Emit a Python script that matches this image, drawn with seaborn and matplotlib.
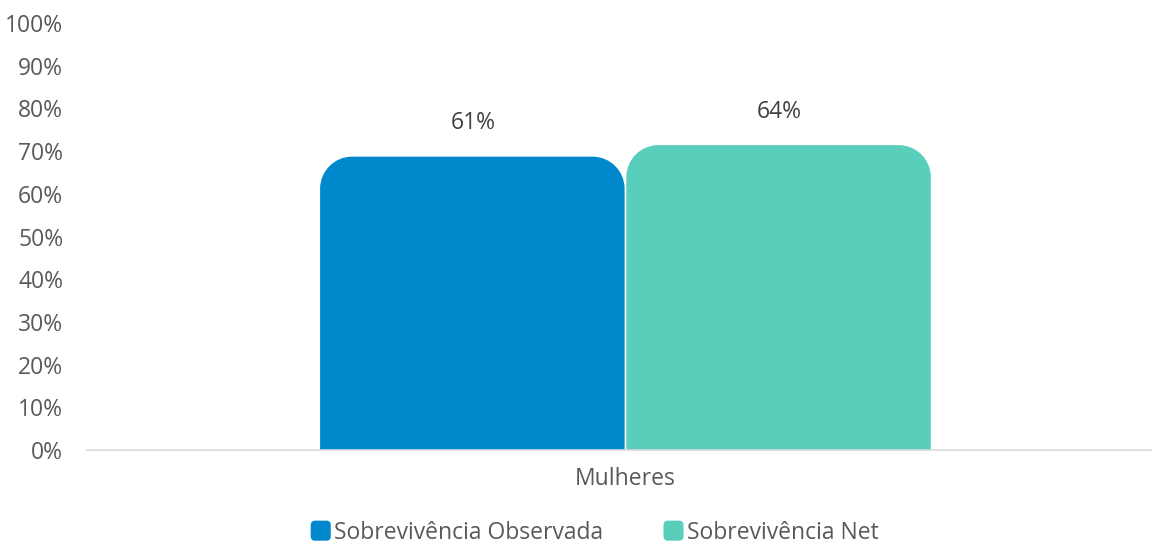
import matplotlib
matplotlib.use("Agg")
import matplotlib.pyplot as plt
import seaborn as sns
import pandas as pd
from matplotlib.patches import FancyBboxPatch, Rectangle, PathPatch
from matplotlib.path import Path
from matplotlib.legend_handler import HandlerPatch

categories = ["Mulheres"]
series = ["Sobrevivência Observada", "Sobrevivência Net"]
bar_heights = [68.7, 71.4]          # bar tops as drawn in the picture (%)
bar_labels = ["61%", "64%"]          # data labels as printed
colors = ["#0088CC", "#59CFBB"]
yticks = list(range(0, 101, 10))

sns.set_theme(style="white")
plt.rcParams["font.family"] = ["Open Sans", "DejaVu Sans"]
FS = 16.5
TXT = "#595959"

df = pd.DataFrame({"cat": categories * len(series), "serie": series, "val": bar_heights})

fig = plt.figure(figsize=(11.52, 5.43), dpi=100)
ax = fig.add_axes([0.0755, 0.1713, 0.9245, 0.7863])

sns.barplot(data=df, x="cat", y="val", hue="serie", palette=colors, width=0.575,
            ax=ax, legend=False, saturation=1)

ax.set_ylim(0, 100)
ax.set_xlim(-0.5056, 0.4944)
ax.set_yticks(yticks)
ax.set_yticklabels([f"{t}%" for t in yticks])
ax.set_xlabel("")
ax.set_ylabel("")
for s in ["top", "right", "left"]:
    ax.spines[s].set_visible(False)
ax.spines["bottom"].set_color("#D9D9D9")
ax.spines["bottom"].set_linewidth(1.2)
ax.spines["bottom"].set_zorder(3)
ax.tick_params(axis="y", length=0, pad=17, labelsize=FS, labelcolor=TXT)
ax.tick_params(axis="x", length=0, pad=12, labelsize=FS, labelcolor=TXT)

# rounded top corners built from the seaborn bar geometry
fig.canvas.draw()
bb = ax.get_window_extent()
xu_per_px = 1.0 / bb.width
yu_per_px = 100.0 / bb.height
r_px = 32
k = 0.5523
bars = list(ax.patches)
for p, col, lab in zip(bars, colors, bar_labels):
    x0, y0, w, h = p.get_x(), p.get_y(), p.get_width(), p.get_height()
    p.set_visible(False)
    x0 += 0.0008
    x1 = x0 + w - 0.0016
    top = y0 + h
    rx = r_px * xu_per_px
    ry = r_px * yu_per_px
    verts = [(x0, y0), (x1, y0), (x1, top - ry),
             (x1, top - ry + k * ry), (x1 - rx + k * rx, top), (x1 - rx, top),
             (x0 + rx, top),
             (x0 + rx - k * rx, top), (x0, top - ry + k * ry), (x0, top - ry),
             (x0, y0)]
    codes = [Path.MOVETO, Path.LINETO, Path.LINETO,
             Path.CURVE4, Path.CURVE4, Path.CURVE4,
             Path.LINETO,
             Path.CURVE4, Path.CURVE4, Path.CURVE4,
             Path.CLOSEPOLY]
    ax.add_patch(PathPatch(Path(verts, codes), facecolor=col, edgecolor="none", zorder=2))
    ax.annotate(lab, (x0 + w / 2, top), xytext=(0, 24), textcoords="offset points",
                ha="center", va="center", fontsize=FS, color="#404040")


class RoundHandler(HandlerPatch):
    def create_artists(self, legend, orig_handle, xdescent, ydescent, width, height, fontsize, trans):
        s = height * 1.25
        p = FancyBboxPatch((width - s - xdescent, -ydescent + (height - s) / 2), s, s,
                           boxstyle=f"round,pad=0,rounding_size={s*0.22}",
                           facecolor=orig_handle.get_facecolor(), edgecolor="none", transform=trans)
        return [p]


handles = [Rectangle((0, 0), 1, 1, facecolor=c) for c in colors]
leg = fig.legend(handles, series, loc="center", bbox_to_anchor=(0.516, 0.019), ncol=2,
                 frameon=False, fontsize=FS, handler_map={Rectangle: RoundHandler()},
                 handlelength=0.9, handletextpad=0.15, columnspacing=2.6)
for t in leg.get_texts():
    t.set_color(TXT)

fig.savefig("out.png", dpi=100)
